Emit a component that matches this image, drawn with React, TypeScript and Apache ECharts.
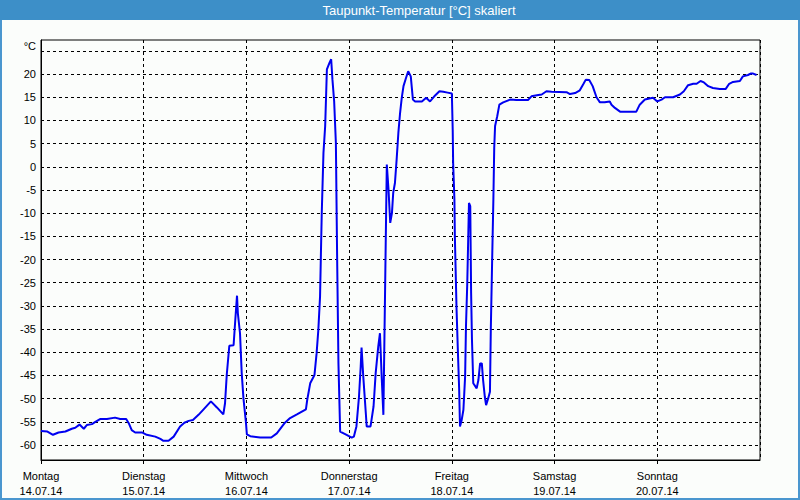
import React, { useEffect, useRef } from "react";
import * as echarts from "echarts";

const dayNames = ["Montag", "Dienstag", "Mittwoch", "Donnerstag", "Freitag", "Samstag", "Sonntag"];
const dayDates = ["14.07.14", "15.07.14", "16.07.14", "17.07.14", "18.07.14", "19.07.14", "20.07.14"];
const yGridValues = [-60, -55, -50, -45, -40, -35, -30, -25, -20, -15, -10, -5, 0, 5, 10, 15, 20, 25];
const yLabelValues = [-60, -55, -50, -45, -40, -35, -30, -25, -20, -15, -10, -5, 0, 5, 10, 15, 20];
const titleText = "Taupunkt-Temperatur [°C] skaliert";
const unitText = "°C";

// hours since Monday 14.07.14 00:00
const hours = [
  0, 1.5, 2.8, 4.1, 5.7, 7.2, 8, 9, 10, 10.7, 11.9, 12.7, 13.8, 15.4, 17.3, 18.5, 19.9, 20.5, 21.2, 22,
  23.6, 24.7, 26.7, 27.9, 28.6, 29.8, 31, 32.5, 33.5, 34.5, 35.5, 36.8, 38.1, 39.7, 41.1, 42.6, 43.0, 43.4, 44.0, 45.0,
  45.4, 45.8, 46.0, 46.5, 46.9, 47.3, 47.9, 48.1, 48.9, 51.2, 53.8, 55.1, 57.0, 58.2, 59.8, 61.9, 62.2, 62.9, 63.9, 64.4,
  64.8, 65.2, 65.6, 66.0, 66.4, 66.8, 67.4, 67.8, 68.1, 68.5, 68.9, 69.2, 69.5, 69.9, 71.4, 72.6, 73.1, 73.7, 74.3, 74.7,
  74.9, 75.3, 75.9, 76.1, 77.0, 77.7, 78.2, 78.8, 79.2, 79.6, 80.0, 80.4, 80.6, 80.8, 81.2, 81.6, 82.0, 82.3, 82.7, 83.1,
  83.5, 83.9, 84.3, 84.7, 85.3, 85.8, 86.4, 86.9, 87.4, 89.0, 90.0, 90.9, 91.9, 93.1, 94.0, 95.0, 96.0, 96.2, 96.3, 96.6,
  96.7, 96.9, 97.1, 97.4, 97.7, 97.9, 98.3, 98.7, 99.1, 99.3, 99.6, 99.8, 100.0, 100.3, 100.5, 100.7, 101.0, 101.8, 102.2, 102.6,
  103.0, 103.3, 103.7, 104.0, 104.5, 104.9, 105.1, 105.4, 105.7, 105.9, 106.1, 106.6, 107.1, 108.0, 109.6, 111.1, 113.8, 114.6, 116.2, 117.0,
  118.1, 119.3, 122.8, 123.6, 124.8, 125.9, 126.7, 127.3, 128.1, 128.9, 129.8, 130.6, 131.7, 132.9, 133.3, 134.1, 135.3, 139.1, 139.9, 141.1,
  143.0, 144.0, 145.0, 145.8, 147.7, 149.3, 150.2, 151.2, 152.4, 153.2, 154.1, 154.9, 155.9, 157.0, 158.6, 160.0, 160.8, 161.7, 163.3, 164.0,
  165.2, 165.8, 166.4, 167.2,
];

const dewPoint = [
  -57.0, -57.1, -57.8, -57.3, -57.1, -56.5, -56.3, -55.6, -56.5, -55.7, -55.5, -55.0, -54.4, -54.4, -54.1, -54.4, -54.4, -55.3, -56.8, -57.3,
  -57.3, -57.8, -58.2, -58.7, -59.1, -59.1, -58.2, -56.0, -55.2, -54.8, -54.6, -53.5, -52.2, -50.6, -51.9, -53.4, -51.0, -44.9, -38.6, -38.5,
  -33.0, -27.8, -31.6, -35.9, -44.5, -49.9, -55.3, -57.7, -58.1, -58.4, -58.4, -57.5, -55.2, -54.2, -53.4, -52.3, -50.3, -46.7, -44.9, -40.2,
  -35.2, -28.0, -10.0, 3.0, 8.8, 21.0, 22.4, 23.2, 18.8, 14.1, 5.2, -20.0, -42.4, -57.1, -57.8, -58.4, -58.2, -56.0, -49.6, -43.1,
  -39.0, -45.2, -53.2, -56.0, -56.0, -51.7, -44.5, -38.8, -35.9, -45.2, -53.5, -26.5, -12.8, 0.5, -4.9, -12.1, -10.0, -5.6, -3.5, 1.6,
  7.3, 11.6, 14.9, 17.4, 19.2, 20.6, 19.5, 14.5, 14.1, 14.1, 14.9, 14.1, 15.2, 16.3, 16.2, 16.0, 15.8, 8.0, 0.8, -7.1,
  -15.0, -22.9, -30.8, -39.5, -47.8, -56.0, -54.6, -52.4, -45.2, -34.4, -25.1, -16.4, -7.8, -8.5, -27.2, -37.3, -46.7, -47.8, -46.0, -42.4,
  -42.4, -46.0, -49.6, -51.4, -49.9, -48.5, -35.2, -20.8, -7.1, 4.1, 8.8, 10.9, 13.4, 13.9, 14.5, 14.4, 14.4, 15.2, 15.5, 15.6,
  16.3, 16.2, 16.1, 15.7, 15.9, 16.5, 17.8, 18.8, 18.7, 17.4, 15.0, 13.9, 13.9, 14.1, 13.4, 12.7, 11.9, 11.9, 13.4, 14.5,
  14.9, 14.1, 14.5, 15.0, 15.0, 15.6, 16.3, 17.6, 17.9, 17.9, 18.5, 18.2, 17.4, 17.0, 16.8, 16.8, 17.9, 18.3, 18.5, 19.5,
  19.8, 20.1, 20.1, 19.8,
];

const FONT = "'Liberation Sans', Arial, sans-serif";

export default function App() {
  const ref = useRef<HTMLDivElement>(null);

  useEffect(() => {
    document.body.style.margin = "0";
    if (!ref.current) return;
    const chart = echarts.init(ref.current, null, { renderer: "svg" });
    const gridLine = { color: "#000", type: [3, 3] as number[], width: 1 };
    chart.setOption({
      animation: false,
      backgroundColor: "#fbfdfb",
      grid: {
        left: 41,
        right: 40,
        top: 40,
        bottom: 40,
        show: true,
        borderColor: "#000",
        borderWidth: 1,
        backgroundColor: "transparent",
      },
      xAxis: {
        type: "value",
        min: 0,
        max: 168,
        interval: 24,
        axisLine: { show: true, onZero: false, lineStyle: { color: "#000", width: 1 } },
        axisTick: { show: true, length: 4, lineStyle: { color: "#000" } },
        splitLine: { show: true, lineStyle: gridLine },
        axisLabel: {
          color: "#000",
          fontFamily: FONT,
          fontSize: 11,
          lineHeight: 15,
          margin: 8,
          showMaxLabel: false,
          formatter: (v: number) => {
            const i = Math.round(v / 24);
            if (i < 0 || i >= dayNames.length) return "";
            return dayNames[i] + "\n" + dayDates[i];
          },
        },
      },
      yAxis: {
        type: "value",
        min: -63.24,
        max: 27.35,
        axisLine: { show: true, onZero: false, lineStyle: { color: "#000", width: 1 } },
        axisTick: { show: false },
        splitLine: { show: false },
        axisLabel: {
          color: "#000",
          fontFamily: FONT,
          fontSize: 11,
          margin: 5,
          customValues: yLabelValues,
          formatter: (v: number) => String(v),
        },
      },
      graphic: [
        { type: "rect", shape: { x: 0, y: 0, width: 800, height: 20 }, style: { fill: "#3d8fc8" }, z: 100 },
        {
          type: "text",
          x: 419,
          y: 10,
          style: {
            text: titleText,
            fill: "#fff",
            font: `13px ${FONT}`,
            textAlign: "center",
            textVerticalAlign: "middle",
          },
          z: 101,
        },
        {
          type: "rect",
          shape: { x: 1, y: 1, width: 798, height: 498 },
          style: { fill: "none", stroke: "#4a96cf", lineWidth: 2 },
          z: 99,
        },
        {
          type: "text",
          x: 36,
          y: 46,
          style: {
            text: unitText,
            fill: "#000",
            font: `11px ${FONT}`,
            textAlign: "right",
            textVerticalAlign: "middle",
          },
        },
      ],
      series: [
        {
          type: "line",
          data: hours.map((h, i) => [h, dewPoint[i]]),
          showSymbol: false,
          symbol: "none",
          lineStyle: { color: "#0000f0", width: 2 },
          z: 5,
          markLine: {
            silent: true,
            symbol: "none",
            label: { show: false },
            lineStyle: gridLine,
            z: 1,
            data: yGridValues.map((v) => ({ yAxis: v })),
          },
        },
      ],
    });
    return () => chart.dispose();
  }, []);

  return <div ref={ref} style={{ width: 800, height: 500 }} />;
}
